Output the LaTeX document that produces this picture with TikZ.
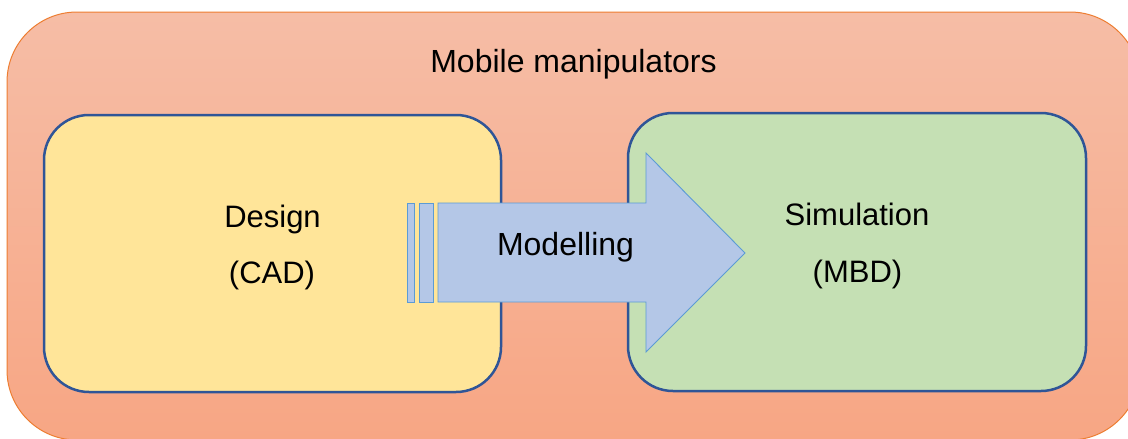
\documentclass[tikz,border=0pt]{standalone}
\usepackage{fontspec}
\setmainfont{Liberation Sans}
\definecolor{outertop}{RGB}{246,189,166}
\definecolor{outerbot}{RGB}{247,166,132}
\definecolor{outerline}{RGB}{237,125,49}
\definecolor{boxline}{RGB}{47,85,151}
\definecolor{designfill}{RGB}{255,229,153}
\definecolor{simfill}{RGB}{197,224,180}
\definecolor{arrowfill}{RGB}{180,199,231}
\definecolor{arrowline}{RGB}{91,155,213}
\tikzset{
  panel/.style={draw=boxline, line width=2.5pt, rounded corners=45pt},
  label/.style={anchor=base, inner sep=0pt, font=\fontsize{31}{37}\selectfont},
  arrowpart/.style={fill=arrowfill, draw=arrowline, line width=0.9pt},
}
\begin{document}
\begin{tikzpicture}[x=1pt,y=-1pt]
  \useasboundingbox (0,0) rectangle (1128,439);
  \clip (0,0) rectangle (1128,439);
  % enclosing area
  \draw[outerline, line width=1pt, rounded corners=70pt,
        top color=outertop, bottom color=outerbot]
    (7,12) rectangle (1140,440);
  \coordinate (outer) at (573,12);
  \node[label, font=\fontsize{32}{38}\selectfont] (title) at (573.5,72) {Mobile manipulators};
  % design and simulation panels
  \draw[panel, fill=designfill] (44,115) rectangle (501,392);
  \draw[panel, fill=simfill] (628,113) rectangle (1086,391);
  \node[label] (design) at (272.5,227) {Design};
  \node[label] (cad) at (272,283) {(CAD)};
  \node[label] (sim) at (857,225) {Simulation};
  \node[label] (mbd) at (857.5,282) {(MBD)};
  % striped arrow
  \draw[arrowpart] (407,203) rectangle (414,302);
  \draw[arrowpart] (419,203) rectangle (433,302);
  \draw[arrowpart] (438,203) -- (646,203) -- (646,153) -- (745,253)
    -- (646,352) -- (646,302) -- (438,302) -- cycle;
  \node[label, font=\fontsize{32}{38}\selectfont] (model) at (565.5,255) {Modelling};
\end{tikzpicture}
\end{document}
